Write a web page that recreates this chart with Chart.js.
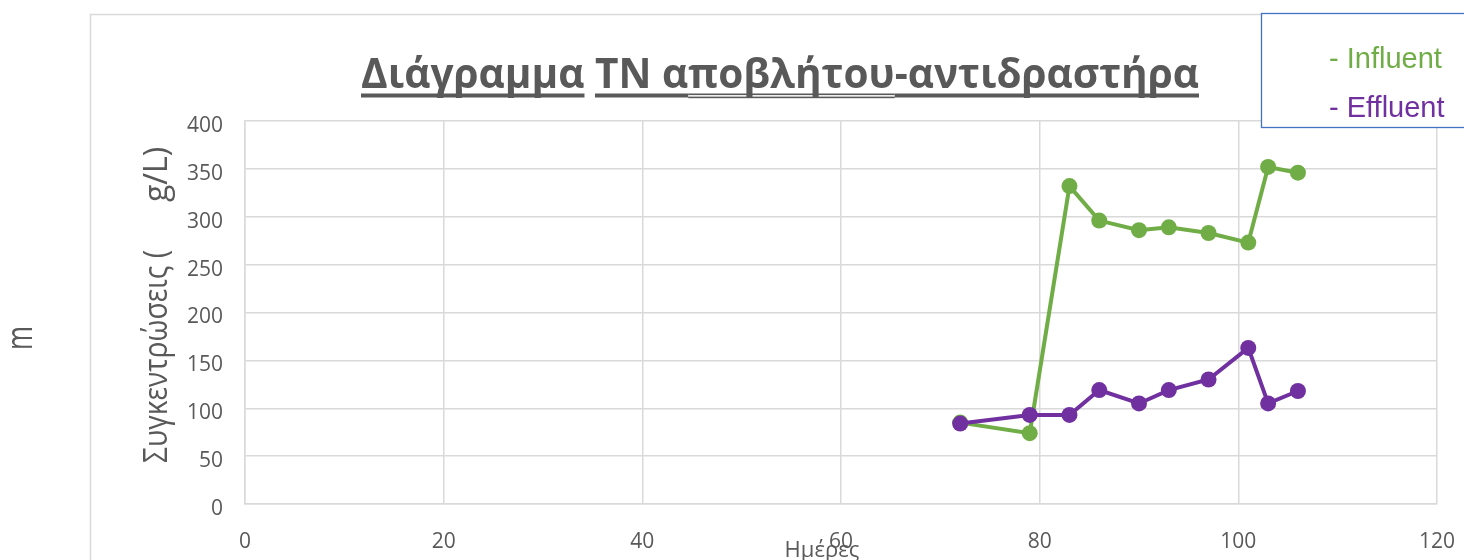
<!DOCTYPE html>
<html lang="el">
<head>
<meta charset="utf-8">
<title>Διάγραμμα TN αποβλήτου-αντιδραστήρα</title>
<script src="https://cdn.jsdelivr.net/npm/chart.js@4/dist/chart.umd.min.js"></script>
<style>
  html, body { margin: 0; padding: 0; background: #ffffff; }
  #c { display: block; }
</style>
</head>
<body>
<canvas id="c" width="1464" height="560"></canvas>
<script>
// Days of sampling
const days = [72, 79, 83, 86, 90, 93, 97, 101, 103, 106];
// Total nitrogen, influent (μg/L)
const influent = [85, 74, 332, 296, 286, 289, 283, 273, 352, 346];
// Total nitrogen, effluent (μg/L)
const effluent = [84, 93, 93, 119, 105, 119, 130, 163, 105, 118];

const seriesNames = ['- Influent', '- Effluent'];
const xTicks = [0, 20, 40, 60, 80, 100, 120];
const yTicks = [0, 50, 100, 150, 200, 250, 300, 350, 400];

const GREEN = '#70AD47';
const PURPLE = '#7030A0';
const TEXT = '#595959';
const GRID = '#D9D9D9';

const toPoints = (xs, ys) => xs.map((x, i) => ({ x: x, y: ys[i] }));

// Frame, title, axis titles and the legend box drawn around the plot
const decor = {
  id: 'decor',
  beforeDraw(chart) {
    const ctx = chart.ctx;
    ctx.save();
    ctx.fillStyle = '#ffffff';
    ctx.fillRect(0, 0, chart.width, chart.height);
    ctx.strokeStyle = GRID;
    ctx.lineWidth = 1.5;
    ctx.beginPath();
    ctx.moveTo(90.5, chart.height + 2);
    ctx.lineTo(90.5, 14.5);
    ctx.lineTo(chart.width + 2, 14.5);
    ctx.stroke();
    ctx.restore();
  },
  afterDraw(chart) {
    const ctx = chart.ctx;
    const area = chart.chartArea;

    // Title with its underlines (single, double, single)
    const segs = [
      ['Διάγραμμα', 1], [' ', 0], ['TN α', 1], ['ποβλήτου', 2], ['-αντιδραστήρα', 1]
    ];
    ctx.save();
    ctx.font = 'bold 40.5px "Open Sans"';
    ctx.fillStyle = TEXT;
    ctx.textBaseline = 'alphabetic';
    ctx.textAlign = 'left';
    const widths = segs.map(s => ctx.measureText(s[0]).width);
    const total = widths.reduce((a, b) => a + b, 0);
    const sx = 838 / total;
    ctx.translate(361, 88);
    ctx.scale(sx, 1);
    let cx = 0;
    segs.forEach((s, i) => {
      ctx.fillText(s[0], cx, 0);
      if (s[1] === 1) {
        ctx.fillRect(cx, 5.5, widths[i], 4);
      } else if (s[1] === 2) {
        ctx.fillRect(cx, 5.5, widths[i], 1.6);
        ctx.fillRect(cx, 8.6, widths[i], 1.6);
      }
      cx += widths[i];
    });
    ctx.restore();

    // Y axis title (rotated), with the gap left by the missing μ
    ctx.save();
    ctx.fillStyle = TEXT;
    ctx.font = '32px "Open Sans"';
    ctx.textBaseline = 'alphabetic';
    ctx.textAlign = 'left';
    ctx.translate(167, 463);
    ctx.rotate(-Math.PI / 2);
    ctx.fillText('Συγκεντρώσεις (', 0, 0, 213);
    ctx.fillText('g/L)', 261, 0, 59);
    ctx.restore();

    // The lone "m" set apart on the left
    ctx.save();
    ctx.fillStyle = TEXT;
    ctx.font = '36px "Open Sans"';
    ctx.textBaseline = 'alphabetic';
    ctx.textAlign = 'center';
    ctx.translate(31.5, 338);
    ctx.rotate(-Math.PI / 2);
    ctx.fillText('m', 0, 0, 24);
    ctx.restore();

    // X axis title
    ctx.save();
    ctx.fillStyle = TEXT;
    ctx.font = '22px "Open Sans"';
    ctx.textBaseline = 'alphabetic';
    ctx.textAlign = 'center';
    ctx.fillText('Ημέρες', area.left + (area.right - area.left) * 0.484, 557);
    ctx.restore();

    // Legend box
    ctx.save();
    ctx.fillStyle = '#ffffff';
    ctx.fillRect(1261, 13, 220, 114);
    ctx.strokeStyle = '#4472C4';
    ctx.lineWidth = 1.3;
    ctx.strokeRect(1261.5, 13.5, 220, 114);
    ctx.font = '29px "Liberation Sans"';
    ctx.textAlign = 'left';
    ctx.textBaseline = 'alphabetic';
    ctx.fillStyle = GREEN;
    ctx.fillText(seriesNames[0], 1329, 68);
    ctx.fillStyle = PURPLE;
    ctx.fillText(seriesNames[1], 1329, 117);
    ctx.restore();
  }
};

new Chart(document.getElementById('c'), {
  type: 'scatter',
  data: {
    datasets: [
      {
        label: seriesNames[0],
        data: toPoints(days, influent),
        showLine: true,
        borderColor: GREEN,
        backgroundColor: GREEN,
        borderWidth: 4,
        pointRadius: 8,
        pointBorderWidth: 0,
        pointHoverRadius: 8,
        order: 2
      },
      {
        label: seriesNames[1],
        data: toPoints(days, effluent),
        showLine: true,
        borderColor: PURPLE,
        backgroundColor: PURPLE,
        borderWidth: 4,
        pointRadius: 8,
        pointBorderWidth: 0,
        pointHoverRadius: 8,
        order: 1
      }
    ]
  },
  options: {
    responsive: false,
    animation: false,
    devicePixelRatio: 1,
    layout: { padding: { left: 0, top: 121, right: 27, bottom: 0 } },
    plugins: {
      legend: { display: false },
      title: { display: false },
      tooltip: { enabled: false }
    },
    scales: {
      x: {
        type: 'linear',
        min: xTicks[0],
        max: xTicks[xTicks.length - 1],
        afterBuildTicks(scale) { scale.ticks = xTicks.map(v => ({ value: v })); },
        afterFit(scale) {
          scale.height = 56;
          scale.paddingLeft = 0;
          scale.paddingRight = 0;
        },
        grid: { color: GRID, lineWidth: 1.5, drawTicks: false },
        border: { color: GRID, width: 1.5 },
        ticks: {
          padding: 25,
          color: TEXT,
          font: { family: '"Open Sans"', size: 21 },
          maxRotation: 0
        }
      },
      y: {
        type: 'linear',
        min: yTicks[0],
        max: yTicks[yTicks.length - 1],
        afterBuildTicks(scale) { scale.ticks = yTicks.map(v => ({ value: v })); },
        afterFit(scale) {
          scale.width = 245;
          scale.paddingTop = 0;
          scale.paddingBottom = 0;
        },
        grid: { color: GRID, lineWidth: 1.5, drawTicks: false },
        border: { color: GRID, width: 1.5 },
        ticks: {
          padding: 22,
          labelOffset: 5,
          color: TEXT,
          font: { family: '"Open Sans"', size: 21 }
        }
      }
    }
  },
  plugins: [decor]
});
</script>
</body>
</html>
